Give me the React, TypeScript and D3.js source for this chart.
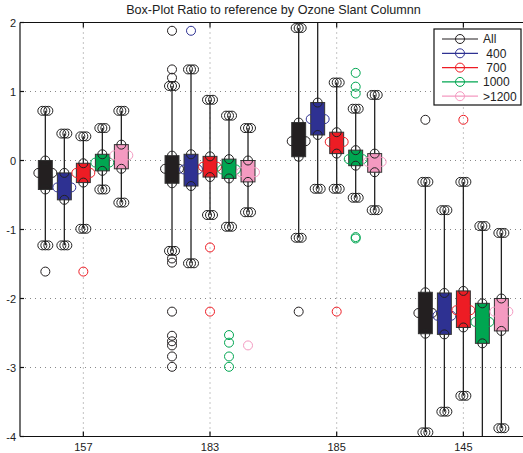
import React from "react";
import * as d3 from "d3";

// Station categories along the x axis
const categories = ["157", "183", "185", "145"];
// Box series (labels as shown in the legend)
const seriesNames = ["All", " 400", " 700", "1000", ">1200"];
const seriesColors = ["#231f20", "#2e3192", "#ed1c24", "#00a651", "#f49ac1"];

// Per-series statistics, one value per category
const whiskerHigh = [
  [0.72, 1.08, 1.92, -0.31],
  [0.39, 1.32, 2.4, -0.72],
  [0.35, 0.88, 1.13, -0.31],
  [0.47, 0.65, 0.75, -0.95],
  [0.72, 0.47, 0.95, -1.05],
];
const upperQuartile = [
  [0.0, 0.07, 0.55, -1.91],
  [-0.18, 0.09, 0.84, -1.92],
  [-0.04, 0.06, 0.41, -1.89],
  [0.09, 0.02, 0.15, -2.07],
  [0.23, 0.0, 0.1, -2.0],
];
const medians = [
  [-0.18, -0.12, 0.28, -2.21],
  [-0.39, -0.13, 0.6, -2.25],
  [-0.18, -0.09, 0.27, -2.17],
  [-0.03, -0.13, 0.02, -2.34],
  [0.075, -0.17, -0.02, -2.19],
];
const lowerQuartile = [
  [-0.42, -0.33, 0.055, -2.51],
  [-0.57, -0.37, 0.37, -2.52],
  [-0.32, -0.24, 0.1, -2.42],
  [-0.15, -0.26, -0.075, -2.65],
  [-0.12, -0.31, -0.17, -2.47],
];
const whiskerLow = [
  [-1.23, -1.31, -1.12, -3.94],
  [-1.23, -1.49, -0.41, -3.64],
  [-0.99, -0.79, -0.41, -3.41],
  [-0.42, -0.96, -0.54, -4.4],
  [-0.61, -0.75, -0.72, -3.88],
];
const outliers = [
  [[-1.61], [1.88, 1.32, 1.2, -1.42, -1.48, -2.19, -2.54, -2.62, -2.68, -2.84, -2.99], [-2.19], [0.59]],
  [[], [1.88], [], []],
  [[-1.61], [-1.26, -2.19], [-2.19], [0.59]],
  [[], [-2.53, -2.64, -2.84, -2.99], [1.27, 1.07, 0.97, -1.11, -1.13], []],
  [[], [-2.68], [], []],
];

const yTicks = [2, 1, 0, -1, -2, -3, -4];

const W = 523;
const H = 453;
const plotLeft = 20;
const plotTop = 22.5;
const plotBottom = 436.5;

const x = d3.scaleLinear().domain([0.5, 4.5]).range([plotLeft, 526.7]);
const y = d3.scaleLinear().domain([-4, 2]).range([plotBottom, plotTop]);

const seriesStep = 0.15; // offset between series within a category
const boxHalf = 0.055;
const R = 4.5;
const font = "'Liberation Sans', Arial, Helvetica, sans-serif";

export default function App() {
  const inRange = (v: number) => v <= 2 && v >= -4;
  return (
    <svg
      width={W}
      height={H}
      style={{ position: "absolute", left: 0, top: 0, background: "#fff" }}
      fontFamily={font}
    >
      <defs>
        <clipPath id="plotClip">
          <rect x={plotLeft} y={plotTop} width={W - plotLeft} height={plotBottom - plotTop} />
        </clipPath>
      </defs>

      <text x={273.5} y={14} fontSize={12.6} textAnchor="middle" fill="#222">
        Box-Plot Ratio to reference by Ozone Slant Columnn
      </text>

      {/* grid */}
      <g stroke="#888" strokeWidth={1} strokeDasharray="1 4">
        {yTicks.filter((t) => t < 2 && t > -4).map((t) => (
          <line key={"gy" + t} x1={plotLeft} x2={W} y1={y(t)} y2={y(t)} />
        ))}
        {categories.map((c, i) => (
          <line key={"gx" + c} x1={x(i + 1)} x2={x(i + 1)} y1={plotTop} y2={plotBottom} />
        ))}
      </g>

      {/* boxes */}
      <g clipPath="url(#plotClip)">
        {categories.map((c, gi) =>
          seriesNames.map((s, si) => {
            const cx = x(gi + 1 + (si - 2) * seriesStep);
            const xl = x(gi + 1 + (si - 2) * seriesStep - boxHalf);
            const xr = x(gi + 1 + (si - 2) * seriesStep + boxHalf);
            const hi = whiskerHigh[si][gi];
            const lo = whiskerLow[si][gi];
            const q3 = upperQuartile[si][gi];
            const q1 = lowerQuartile[si][gi];
            const md = medians[si][gi];
            const col = seriesColors[si];
            return (
              <g key={c + s}>
                <line x1={cx} x2={cx} y1={y(hi)} y2={y(lo)} stroke="#222" strokeWidth={1.3} />
                <rect
                  x={xl}
                  y={y(q3)}
                  width={xr - xl}
                  height={y(q1) - y(q3)}
                  fill={col}
                  stroke="#333"
                  strokeWidth={1}
                />
                <g fill="none" strokeWidth={1}>
                  {[hi, lo].filter(inRange).map((v, k) =>
                    [-3, 0, 3].map((dx) => (
                      <circle key={"w" + k + dx} cx={cx + dx} cy={y(v)} r={R} stroke="#222" />
                    ))
                  )}
                  <circle cx={cx} cy={y(q3)} r={R} stroke="#222" />
                  <circle cx={cx} cy={y(q1)} r={R} stroke="#222" />
                  <circle cx={xl} cy={y(md)} r={R} stroke={col} />
                  <circle cx={xr} cy={y(md)} r={R} stroke={col} />
                  {outliers[si][gi].map((v, k) => (
                    <circle key={"o" + k} cx={cx} cy={y(v)} r={R} stroke={col} />
                  ))}
                </g>
              </g>
            );
          })
        )}
      </g>

      {/* axes */}
      <g stroke="#111" strokeWidth={1.2} fill="none">
        <line x1={plotLeft} x2={plotLeft} y1={plotTop} y2={plotBottom} />
        <line x1={plotLeft} x2={W} y1={plotBottom} y2={plotBottom} />
        <line x1={plotLeft} x2={W} y1={plotTop} y2={plotTop} />
        {categories.map((c, i) => (
          <g key={"t" + c}>
            <line x1={x(i + 1)} x2={x(i + 1)} y1={plotBottom} y2={plotBottom - 5} />
            <line x1={x(i + 1)} x2={x(i + 1)} y1={plotTop} y2={plotTop + 5} />
          </g>
        ))}
        {yTicks.map((t) => (
          <line key={"yt" + t} x1={plotLeft} x2={plotLeft + 4} y1={y(t)} y2={y(t)} />
        ))}
      </g>
      <g fontSize={11} fill="#222">
        {yTicks.map((t) => (
          <text key={"yl" + t} x={16} y={y(t) + 4} textAnchor="end">
            {String(t)}
          </text>
        ))}
        {categories.map((c, i) => (
          <text key={"xl" + c} x={x(i + 1)} y={451} textAnchor="middle">
            {c}
          </text>
        ))}
      </g>

      {/* legend */}
      <g>
        <rect x={434} y={29} width={87} height={76} fill="#fff" stroke="#111" strokeWidth={1.2} />
        {seriesNames.map((s, i) => {
          const ly = 39 + i * 14.3;
          return (
            <g key={"lg" + s}>
              <line x1={442} x2={478} y1={ly} y2={ly} stroke={seriesColors[i]} strokeWidth={1.2} />
              <circle cx={460} cy={ly} r={R} fill="none" stroke={seriesColors[i]} />
              <text x={483} y={ly + 4.3} fontSize={12} fill="#222" style={{ whiteSpace: "pre" }}>
                {s}
              </text>
            </g>
          );
        })}
      </g>
    </svg>
  );
}
